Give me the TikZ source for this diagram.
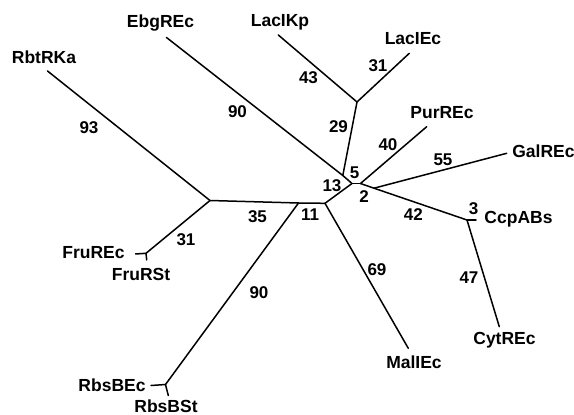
\documentclass[tikz,border=0pt]{standalone}
\usepackage{fontspec}
\setmainfont{Liberation Sans}
\begin{document}
\begin{tikzpicture}[x=1pt,y=-1pt,
  br/.style={line width=1.5pt,line cap=round,line join=round},
  nm/.style={font=\fontsize{17.5}{18}\selectfont\bfseries,inner sep=0pt,anchor=center},
  num/.style={font=\fontsize{17}{18}\selectfont\bfseries,inner sep=0pt,anchor=center}]
\path[use as bounding box] (0,0) rectangle (574,415);
% internal nodes
\coordinate (G) at (210,200.5);
\coordinate (H) at (298.5,203);
\coordinate (F) at (325,203.3);
\coordinate (A) at (352,183.5);
\coordinate (B) at (342.8,175.5);
\coordinate (C) at (360.5,183.5);
\coordinate (D) at (374,188.2);
\coordinate (E) at (467,220);
\coordinate (I) at (357,102);
\coordinate (Fr) at (146,253.3);
\coordinate (Rb) at (165.5,384.5);
% leaf ends
\coordinate (rbt) at (47.5,71);
\coordinate (ebg) at (166.5,37.5);
\coordinate (kp) at (278.3,35);
\coordinate (lec) at (409.3,53.3);
\coordinate (pur) at (426.7,126.7);
\coordinate (gal) at (506.7,153.3);
\coordinate (ccp) at (476,220);
\coordinate (cyt) at (499.3,326.7);
\coordinate (mal) at (408.3,348.3);
\coordinate (fec) at (135.5,254);
\coordinate (fst) at (146.7,260);
\coordinate (rec) at (151,385.5);
\coordinate (rst) at (168.3,395.5);
% branches
\draw[br] (rbt) -- (G);
\draw[br] (G) -- (H) -- (F);
\draw[br] (G) -- (Fr);
\draw[br] (fec) -- (Fr) -- (fst);
\draw[br] (H) -- (Rb);
\draw[br] (rec) -- (Rb) -- (rst);
\draw[br] (F) -- (mal);
\draw[br] (F) -- (A);
\draw[br] (ebg) -- (B) -- (A);
\draw[br] (B) -- (I);
\draw[br] (kp) -- (I) -- (lec);
\draw[br] (A) -- (C);
\draw[br] (C) -- (pur);
\draw[br] (C) -- (D) -- (E);
\draw[br] (D) -- (gal);
\draw[br] (E) -- (ccp);
\draw[br] (E) -- (cyt);
% leaf labels
\node[nm] (tRbt) at (44,57) {RbtRKa};
\node[nm] (tEbg) at (160.5,23) {EbgREc};
\node[nm] (tKp) at (280,22) {LacIKp};
\node[nm] (tLec) at (413,39) {LacIEc};
\node[nm] (tPur) at (442,113) {PurREc};
\node[nm] (tGal) at (543.5,151.5) {GalREc};
\node[nm] (tCcp) at (518.5,219) {CcpABs};
\node[nm] (tCyt) at (504.5,340) {CytREc};
\node[nm] (tMal) at (414,362) {MalIEc};
\node[nm] (tFec) at (93.5,252.5) {FruREc};
\node[nm] (tFst) at (141,274) {FruRSt};
\node[nm] (tRec) at (112,385.5) {RbsBEc};
\node[nm] (tRst) at (166,406.5) {RbsBSt};
% branch lengths
\node[num] (n93) at (89,128) {93};
\node[num] (n90a) at (237.5,111.5) {90};
\node[num] (n43) at (308.5,78) {43};
\node[num] (n31a) at (378,66) {31};
\node[num] (n29) at (338.5,126.5) {29};
\node[num] (n40) at (388,145) {40};
\node[num] (n55) at (443,159.5) {55};
\node[num] (n5) at (354.5,173) {5};
\node[num] (n13) at (332,185.5) {13};
\node[num] (n2) at (364,197) {2};
\node[num] (n42) at (413.3,214.5) {42};
\node[num] (n3) at (473.5,209) {3};
\node[num] (n11) at (310,215) {11};
\node[num] (n69) at (377,269.5) {69};
\node[num] (n47) at (469,278) {47};
\node[num] (n35) at (257.5,216.5) {35};
\node[num] (n31b) at (186,240) {31};
\node[num] (n90b) at (259,293) {90};
\end{tikzpicture}
\end{document}
